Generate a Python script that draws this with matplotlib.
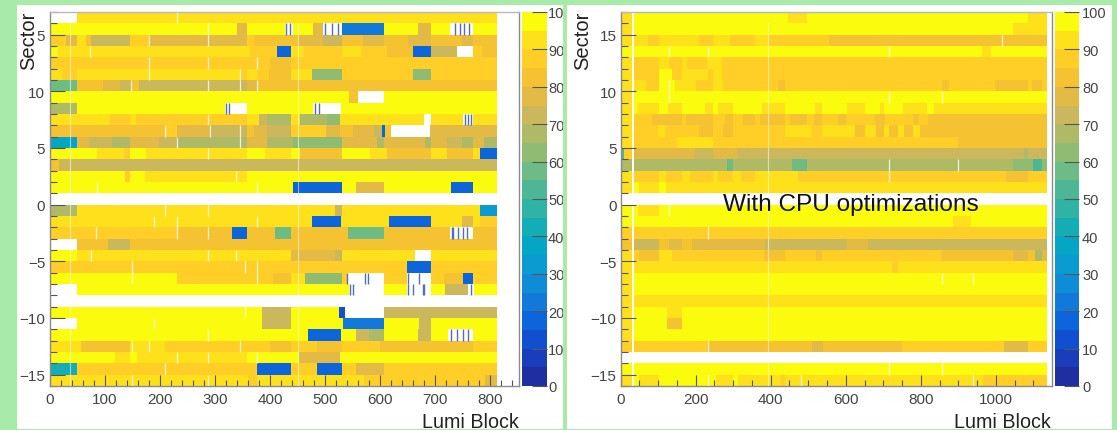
import numpy as np
import matplotlib
matplotlib.use('Agg')
import matplotlib.pyplot as plt
from matplotlib.colors import ListedColormap, BoundaryNorm
from matplotlib.patches import Rectangle
from matplotlib.ticker import MultipleLocator, FixedLocator, FixedFormatter
from matplotlib.transforms import Bbox, TransformedBbox

plt.rcParams['font.family'] = ['Liberation Sans', 'DejaVu Sans']

W, H = 1117, 431
N = None

# each row is (end lumi block, efficiency), rows run from 0 upwards in lumi
# left panel, named by sector (m = minus)
L16 = [(50, N), (812, 93)]
L15 = [(341, 98), (359, 78), (428, 98), (441, N), (478, 98), (497, 78), (530, N), (607, 20), (669, 98), (692, 78),
       (726, 98), (769, N), (812, 98)]
L14 = [(30, 88), (50, 78), (66, 93), (75, 83), (146, 73), (180, 88), (358, 78), (371, 88), (451, 83), (497, 78),
       (530, 73), (568, 83), (607, 78), (651, 83), (693, 78), (748, 83), (769, 78), (812, 83)]
L13 = [(16, 98), (364, 93), (412, 88), (439, 15), (461, 93), (530, 88), (565, 93), (613, 88), (660, 83), (692, 15),
       (739, 73), (769, N), (785, 88), (812, 83)]
L12 = [(401, 88), (439, 83), (812, 88)]
L11 = [(22, 93), (50, 88), (346, 93), (359, 88), (376, 93), (399, 88), (439, 83), (476, 93), (530, 63), (659, 88),
       (693, 63), (812, 88)]
L10 = [(50, 58), (97, 83), (128, 78), (147, 73), (163, 83), (358, 73), (379, 78), (812, 83)]
L9 = [(544, 98), (559, 83), (607, N), (812, 98)]
L8 = [(50, 68), (318, 98), (359, N), (478, 98), (529, N), (812, 98)]
L7 = [(110, 93), (146, 88), (157, 93), (359, 88), (381, 93), (394, 73), (439, 68), (455, 93), (503, 68), (527, 63),
      (680, 93), (692, N), (751, 93), (769, N), (812, 93)]
L6 = [(210, 83), (231, 88), (291, 78), (358, 73), (371, 83), (394, 78), (439, 73), (502, 88), (527, 78), (550, 83),
      (588, 78), (603, 73), (608, 18), (619, 83), (690, N), (812, 78)]
L5 = [(50, 38), (72, 78), (113, 73), (146, 68), (199, 78), (231, 73), (358, 68), (394, 78), (442, 68), (530, 63),
      (594, 78), (607, 68), (681, 78), (693, 68), (721, 78), (748, 73), (769, 68), (789, 78), (812, 68)]
L4 = [(87, 98), (135, 93), (146, 88), (175, 98), (358, 93), (391, 98), (439, 93), (455, 98), (530, 83), (582, 98),
      (612, 93), (693, 83), (721, 93), (769, 83), (781, 93), (812, 15)]
L3 = [(18, 83), (812, 73)]
L2 = [(137, 98), (146, 88), (173, 98), (359, 93), (812, 98)]
L1 = [(441, 98), (530, 18), (556, 98), (607, 78), (728, 98), (769, 18), (812, 98)]
L0 = [(812, N)]
Lm1 = [(50, 68), (518, 93), (530, 73), (781, 93), (812, 33)]
Lm2 = [(477, 93), (529, 18), (616, 93), (692, 18), (748, 93), (769, 78), (781, 93), (812, 88)]
Lm3 = [(231, 88), (332, 83), (359, 18), (409, 83), (439, 58), (542, 83), (607, 58), (727, 83), (769, N), (812, 83)]
Lm4 = [(50, N), (107, 83), (146, 73), (812, 83)]
Lm5 = [(50, 98), (439, 93), (518, 78), (530, 73), (663, 93), (692, N), (812, 93)]
Lm6 = [(649, 88), (692, 18), (812, 88)]
Lm7 = [(231, 98), (406, 88), (439, 83), (464, 93), (530, 63), (539, 88), (607, N), (649, 88), (693, N), (715, 88),
       (751, 83), (769, 18), (812, 88)]
Lm8 = [(50, N), (544, 98), (607, N), (648, 98), (692, N), (718, 98), (760, 73), (770, N), (812, 98)]
Lm9 = [(812, N)]
Lm10 = [(385, 98), (439, 73), (526, 98), (536, 13), (607, N), (812, 73)]
Lm11 = [(50, N), (385, 98), (439, 73), (532, 98), (607, 23), (671, 98), (692, 73), (812, 98)]
Lm12 = [(469, 98), (529, 18), (556, 98), (580, 73), (607, 68), (668, 98), (692, 73), (724, 98), (769, N), (812, 98)]
Lm13 = [(58, 93), (146, 83), (210, 93), (400, 88), (439, 83), (485, 88), (530, 83), (600, 88), (769, 83), (812, 88)]
Lm14 = [(119, 98), (146, 93), (158, 98), (358, 93), (453, 98), (527, 78), (812, 98)]
Lm15 = [(50, 43), (376, 88), (439, 18), (485, 88), (530, 18), (556, 88), (607, 78), (812, 88)]
Lm16 = [(360, 93), (376, 88), (570, 93), (790, 88), (812, 78)]

# right panel
R16 = [(30, 93), (36, N), (447, 98), (496, 93), (1087, 98), (1137, 93)]
R15 = [(30, 93), (36, N), (1047, 98), (1137, 93)]
R14 = [(30, 93), (36, N), (74, 93), (102, 88), (210, 93), (247, 88), (291, 93), (315, 88), (358, 88), (394, 93),
       (554, 88), (1137, 83)]
R13 = [(30, 98), (36, N), (964, 98), (987, 93), (1137, 98)]
R12 = [(30, 93), (36, N), (102, 88), (129, 93), (163, 88), (176, 93), (229, 88), (269, 93), (1137, 88)]
R11 = [(30, 93), (36, N), (102, 88), (136, 98), (163, 88), (234, 93), (247, 88), (269, 93), (1137, 88)]
R10 = [(30, 93), (36, N), (67, 93), (102, 88), (145, 98), (200, 93), (247, 88), (274, 93), (420, 88), (438, 83),
       (856, 88), (874, 83), (998, 88), (1087, 83), (1096, 88), (1123, 83), (1137, 88)]
R9 = [(30, 93), (36, N), (1137, 98)]
R8 = [(30, 93), (36, N), (47, 98), (102, 93), (125, 98), (163, 93), (225, 98), (245, 93), (260, 98), (300, 93),
      (376, 98), (438, 93), (518, 98), (536, 93), (602, 98), (616, 93), (651, 93), (691, 98), (703, 93), (752, 98),
      (816, 93), (836, 98), (1137, 93)]
R7 = [(30, 93), (36, N), (83, 88), (127, 83), (163, 83), (173, 88), (247, 83), (278, 88), (300, 83), (327, 88),
      (358, 83), (372, 88), (438, 83), (452, 88), (496, 83), (514, 88), (536, 83), (580, 88), (601, 83), (678, 88),
      (705, 83), (780, 88), (795, 83), (820, 88), (1137, 83)]
R6 = [(30, 93), (36, N), (100, 88), (118, 93), (210, 88), (247, 83), (274, 88), (300, 83), (438, 88), (510, 93),
      (536, 88), (602, 93), (625, 93), (651, 83), (681, 93), (703, 83), (715, 93), (738, 83), (755, 93), (779, 83),
      (798, 93), (1137, 83)]
R5 = [(30, 93), (36, N), (149, 88), (247, 93), (900, 88), (1137, 83)]
R4 = [(10, 53), (30, 88), (36, N), (198, 78), (247, 73), (310, 78), (1076, 73), (1087, 68), (1137, 73)]
R3 = [(30, 68), (36, N), (284, 68), (300, 58), (456, 68), (496, 58), (1045, 68), (1100, 63), (1123, 53), (1137, 63)]
R2 = [(30, 93), (36, N), (102, 88), (120, 93), (163, 88), (185, 93), (247, 88), (260, 93), (300, 88), (322, 93),
      (358, 88), (473, 93), (496, 88), (1027, 88), (1087, 83), (1137, 88)]
R1 = [(30, 93), (36, N), (50, 98), (102, 93), (120, 98), (1137, 93)]
R0 = [(1137, N)]
Rm1 = [(30, 98), (36, N), (45, 98), (102, 93), (1137, 98)]
Rm2 = [(30, 98), (36, N), (885, 98), (934, 93), (1137, 98)]
Rm3 = [(30, 88), (36, N), (1137, 88)]
Rm4 = [(30, 83), (36, N), (102, 73), (129, 83), (163, 78), (189, 83), (385, 78), (602, 73), (658, 78), (1137, 73)]
Rm5 = [(30, 93), (36, N), (49, 88), (102, 83), (136, 93), (383, 88), (438, 83), (521, 88), (536, 83), (853, 88),
       (1047, 83), (1087, 78), (1105, 83), (1123, 68), (1137, 78)]
Rm6 = [(30, 93), (36, N), (724, 93), (738, 88), (1137, 93)]
Rm7 = [(30, 93), (36, N), (1137, 98)]
Rm8 = [(30, 93), (36, N), (1137, 98)]
Rm9 = [(30, 93), (36, N), (1137, 93)]
Rm10 = [(30, 93), (36, N), (124, 98), (163, 93), (1137, 98)]
Rm11 = [(30, 93), (36, N), (124, 98), (163, 83), (1137, 98)]
Rm12 = [(30, 93), (36, N), (1137, 98)]
Rm13 = [(30, 88), (36, N), (229, 88), (509, 83), (538, 78), (749, 83), (1022, 88), (1087, 78), (1137, 88)]
Rm14 = [(1137, N)]
Rm15 = [(30, 98), (36, N), (1137, 98)]
Rm16 = [(30, 93), (36, N), (50, 98), (102, 93), (253, 98), (300, 93), (314, 98), (428, 93), (438, 88), (965, 93),
        (1137, 88)]

left_rows = [L16, L15, L14, L13, L12, L11, L10, L9, L8, L7, L6, L5, L4, L3, L2, L1, L0,
             Lm1, Lm2, Lm3, Lm4, Lm5, Lm6, Lm7, Lm8, Lm9, Lm10, Lm11, Lm12, Lm13, Lm14, Lm15, Lm16]
right_rows = [R16, R15, R14, R13, R12, R11, R10, R9, R8, R7, R6, R5, R4, R3, R2, R1, R0,
              Rm1, Rm2, Rm3, Rm4, Rm5, Rm6, Rm7, Rm8, Rm9, Rm10, Rm11, Rm12, Rm13, Rm14, Rm15, Rm16]

# short empty bins (sector, lumi) and the blue bins inside the white runs
left_gaps = [(16, 231), (15, 288), (14, 181), (14, 288), (13, 74), (12, 181), (12, 288), (12, 376), (11, 181),
             (11, 346), (10, 147), (10, 288), (10, 346), (10, 376), (7, 288), (6, 210), (6, 291), (6, 346), (5, 231),
             (5, 346), (4, 288), (2, 339), (1, 86), (1, 376), (-1, 210), (-1, 288), (-2, 190), (-2, 231), (-2, 376),
             (-3, 85), (-3, 231), (-3, 288), (-5, 75), (-5, 288), (-5, 338), (-6, 150), (-6, 354), (-6, 376),
             (-7, 150), (-7, 376), (-10, 354), (-11, 190), (-12, 288), (-13, 150), (-13, 181), (-13, 346), (-14, 231),
             (-14, 288), (-14, 376), (-15, 210), (-16, 150), (-16, 288)]
left_blue = [(15, 430), (15, 436), (15, 500), (15, 512), (15, 524), (15, 736), (15, 745), (15, 752), (15, 762),
             (8, 320), (8, 325), (8, 482), (8, 489), (7, 754), (7, 760), (7, 765), (-3, 731), (-3, 733), (-3, 742),
             (-3, 750), (-3, 758), (-7, 540), (-7, 573), (-7, 578), (-7, 651), (-7, 670), (-8, 546), (-8, 550),
             (-8, 651), (-8, 660), (-8, 677), (-8, 679), (-8, 765), (-12, 728), (-12, 740), (-12, 750), (-12, 760)]
left_full_gaps = [38, 451]
right_gaps = [(13, 130), (13, 232), (10, 130), (13, 716), (9, 130), (9, 716), (9, 856), (14, 1017), (3, 716), (3, 900),
              (2, 716), (-1, 130), (-3, 232), (-7, 856), (-7, 940), (-13, 232), (-15, 716), (-15, 856), (-16, 232),
              (-16, 480), (-16, 940)]
right_full_gaps = [394]

x_max = [852, 1149]
xticks_major = [100, 200]
xticks_minor = [20, 50]
ytick_vals = [15, 10, 5, 0, -5, -10, -15]
left_ylabels = ['5', '10', '5', '0', '\u22125', '\u221210', '\u221215']
right_ylabels = ['15', '10', '5', '0', '\u22125', '\u221210', '\u221215']
cbar_levels = np.arange(0, 105, 5)
cbar_ticks = np.arange(0, 110, 10)
cbar_colors = ['#1f2f9f', '#1a3dbb', '#104fd0', '#0d65db', '#1279da', '#0f8cd6', '#0a9bd0', '#05a5c5', '#15adb5',
               '#2fb3a5', '#4db795', '#6dbb85', '#8fbc72', '#afba66', '#ccb85c', '#e2ba45', '#f5c232', '#ffcf27',
               '#fee11b', '#fbfb0e']

cmap = ListedColormap(cbar_colors)
norm = BoundaryNorm(cbar_levels, cmap.N)
GRAY = '#555555'


def px_axes(fig, x0, x1, y0, y1):
    '''Axes from pixel edges, y counted from the top
    '''
    return fig.add_axes([x0 / W, 1 - y1 / H, (x1 - x0) / W, (y1 - y0) / H])


def draw_rows(ax, rows):
    '''One pcolormesh per sector row
    '''
    for i, row in enumerate(rows):
        sector = 16 - i
        edges = [0] + [r[0] for r in row]
        vals = np.array([np.nan if r[1] is None else r[1] for r in row], dtype=float)
        ax.pcolormesh(edges, [sector, sector + 1], np.ma.masked_invalid(vals[None, :]), cmap=cmap, norm=norm)


def draw_panel(ax, rows, gaps, full_gaps, blue, xmax, major, minor, ylabels):
    draw_rows(ax, rows)
    for sector, lumi in gaps:
        ax.vlines(lumi, sector, sector + 1, color='white', lw=0.9, alpha=0.8, zorder=3)
    for sector, lumi in blue:
        ax.vlines(lumi, sector, sector + 1, color='#4f6fb8', lw=1.0, zorder=3)
    for lumi in full_gaps:
        ax.vlines(lumi, -16, 16, color='white', lw=0.8, alpha=0.55, zorder=3)
    ax.set_xlim(0, xmax)
    ax.set_ylim(-16, 17)
    ax.xaxis.set_major_locator(MultipleLocator(major))
    ax.xaxis.set_minor_locator(MultipleLocator(minor))
    ax.yaxis.set_major_locator(FixedLocator(ytick_vals))
    ax.yaxis.set_major_formatter(FixedFormatter(ylabels))
    ax.yaxis.set_minor_locator(MultipleLocator(1))
    ax.tick_params(axis='x', which='major', direction='in', length=8, width=0.8, color=GRAY, labelsize=11,
                   labelcolor='#444444', pad=4)
    ax.tick_params(axis='x', which='minor', direction='in', length=4, width=0.8, color=GRAY)
    ax.tick_params(axis='y', which='major', direction='in', length=11, width=0.8, color=GRAY, labelsize=11,
                   labelcolor='#444444', pad=3)
    ax.tick_params(axis='y', which='minor', direction='in', length=5, width=0.8, color=GRAY)
    for s in ax.spines.values():
        s.set_color('#8a8a8a')
        s.set_linewidth(1.0)
    ax.spines['top'].set_color('#b8b8b8')


def draw_cbar(fig, x0, x1, clip_x, pad):
    cax = px_axes(fig, x0, x1, 13, 387)
    cax.pcolormesh([0, 1], cbar_levels, np.array(cbar_levels[:-1] + 2.5)[:, None], cmap=cmap, norm=norm)
    cax.set_xlim(0, 1)
    cax.set_ylim(0, 100)
    cax.set_xticks([])
    cax.yaxis.tick_right()
    cax.set_yticks(cbar_ticks)
    cax.tick_params(axis='y', direction='in', length=11, width=0.8, color=GRAY, labelsize=10.5,
                    labelcolor='#444444', pad=pad)
    for s in cax.spines.values():
        s.set_visible(False)
    clip = TransformedBbox(Bbox([[0, 0], [clip_x / W, 1]]), fig.transFigure)
    for lbl in cax.get_yticklabels():
        lbl.set_clip_box(clip)
        lbl.set_clip_on(True)


fig = plt.figure(figsize=(W / 100, H / 100), dpi=100, facecolor='#a8eba8')
fig.add_artist(Rectangle((17 / W, 1 - 430 / H), 546 / W, 424 / H, transform=fig.transFigure, fc='white', ec='none',
                         zorder=-1))
fig.add_artist(Rectangle((567 / W, 1 - 430 / H), 545 / W, 424 / H, transform=fig.transFigure, fc='white', ec='none',
                         zorder=-1))

ax1 = px_axes(fig, 49.5, 519, 13, 387)
draw_panel(ax1, left_rows, left_gaps, left_full_gaps, left_blue, x_max[0], xticks_major[0], xticks_minor[0],
           left_ylabels)
draw_cbar(fig, 521.7, 546.7, 563, 1)

ax2 = px_axes(fig, 620.7, 1051.7, 13, 387)
draw_panel(ax2, right_rows, right_gaps, right_full_gaps, [], x_max[1], xticks_major[1], xticks_minor[1],
           right_ylabels)
draw_cbar(fig, 1055, 1079.3, 1112, 2)

fig.text(29 / W, 1 - 41 / H, 'Sector', rotation=90, fontsize=14.5, color='#222222', ha='center', va='center')
fig.text(583 / W, 1 - 41 / H, 'Sector', rotation=90, fontsize=14.5, color='#222222', ha='center', va='center')
fig.text(519 / W, 1 - 423 / H, 'Lumi Block', fontsize=14.2, color='#222222', ha='right', va='center')
fig.text(1051 / W, 1 - 423 / H, 'Lumi Block', fontsize=14.2, color='#222222', ha='right', va='center')
fig.text(723 / W, 1 - 205 / H, 'With CPU optimizations', fontsize=17.6, color='#111111', ha='left', va='center',
         zorder=10)

fig.savefig('out.png', dpi=100, facecolor=fig.get_facecolor())
